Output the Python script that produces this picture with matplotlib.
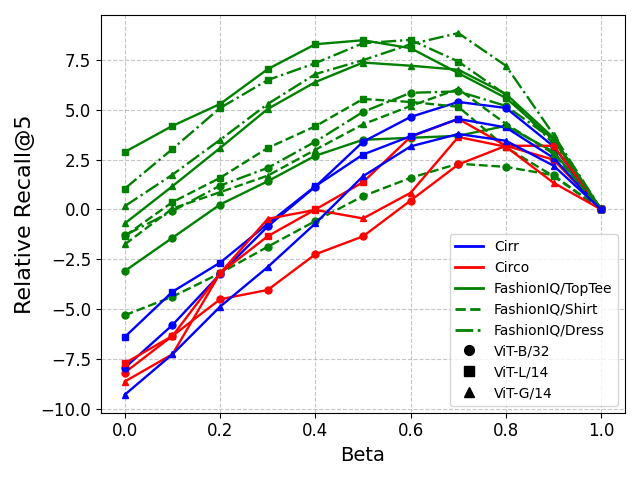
import matplotlib
matplotlib.use('Agg')
import matplotlib.pyplot as plt
from matplotlib.lines import Line2D
import numpy as np

beta = [0.0, 0.1, 0.2, 0.3, 0.4, 0.5, 0.6, 0.7, 0.8, 0.9, 1.0]

models = ['ViT-B/32', 'ViT-L/14', 'ViT-G/14']
markers = {'ViT-B/32': 'o', 'ViT-L/14': 's', 'ViT-G/14': '^'}

datasets = ['Cirr', 'Circo', 'FashionIQ/TopTee', 'FashionIQ/Shirt', 'FashionIQ/Dress']
colors = {'Cirr': 'blue', 'Circo': 'red', 'FashionIQ/TopTee': 'green',
          'FashionIQ/Shirt': 'green', 'FashionIQ/Dress': 'green'}
styles = {'Cirr': '-', 'Circo': '-', 'FashionIQ/TopTee': '-',
          'FashionIQ/Shirt': '--', 'FashionIQ/Dress': '-.'}

# relative recall@5 per dataset / model
cirr_b32 = [-7.95, -5.8, -3.25, -0.85, 1.15, 3.4, 4.65, 5.4, 5.1, 3.17, 0.0]
cirr_l14 = [-6.4, -4.13, -2.67, -0.72, 1.17, 2.76, 3.68, 4.55, 4.12, 2.59, 0.0]
cirr_g14 = [-9.3, -7.27, -4.88, -2.89, -0.7, 1.67, 3.17, 3.79, 3.45, 2.2, 0.0]

circo_b32 = [-8.19, -6.35, -4.51, -4.04, -2.25, -1.35, 0.45, 2.26, 3.2, 2.5, 0.0]
circo_l14 = [-7.72, -6.35, -3.2, -1.34, 0.0, 1.37, 3.65, 4.55, 3.2, 3.2, 0.0]
circo_g14 = [-8.64, -7.27, -3.2, -0.47, -0.02, -0.45, 0.84, 3.64, 3.15, 1.34, 0.0]

toptee_b32 = [-3.09, -1.42, 0.25, 1.42, 2.7, 3.5, 3.6, 3.7, 4.2, 2.9, 0.0]
toptee_l14 = [2.89, 4.2, 5.3, 7.05, 8.3, 8.5, 8.1, 6.85, 5.6, 3.5, 0.0]
toptee_g14 = [-0.7, 1.17, 3.09, 5.05, 6.4, 7.38, 7.22, 7.02, 5.8, 3.6, 0.0]

shirt_b32 = [-5.31, -4.38, -3.2, -1.87, -0.58, 0.67, 1.59, 2.3, 2.14, 1.72, 0.0]
shirt_l14 = [-1.33, 0.37, 1.59, 3.09, 4.18, 5.55, 5.4, 5.16, 3.12, 1.67, 0.0]
shirt_g14 = [-1.75, 0.05, 0.87, 1.7, 3.0, 4.28, 5.2, 6.05, 4.3, 2.8, 0.0]

dress_b32 = [-1.3, -0.08, 1.2, 2.09, 3.41, 4.9, 5.86, 5.93, 5.2, 3.5, 0.0]
dress_l14 = [1.05, 3.04, 5.1, 6.5, 7.35, 8.35, 8.52, 7.43, 5.76, 3.3, 0.0]
dress_g14 = [0.17, 1.75, 3.5, 5.3, 6.8, 7.5, 8.3, 8.86, 7.22, 3.76, 0.0]

results = {
    'Cirr': [cirr_b32, cirr_l14, cirr_g14],
    'Circo': [circo_b32, circo_l14, circo_g14],
    'FashionIQ/TopTee': [toptee_b32, toptee_l14, toptee_g14],
    'FashionIQ/Shirt': [shirt_b32, shirt_l14, shirt_g14],
    'FashionIQ/Dress': [dress_b32, dress_l14, dress_g14],
}

fig, ax = plt.subplots(figsize=(6.4, 4.8), dpi=100)

draw_order = ['FashionIQ/TopTee', 'FashionIQ/Shirt', 'FashionIQ/Dress', 'Circo', 'Cirr']
for mi, m in enumerate(models):
    for d in draw_order:
        ax.plot(beta, results[d][mi], color=colors[d], linestyle=styles[d],
                marker=markers[m], markersize=5, linewidth=1.7)

handles = [Line2D([0], [0], color=colors[d], linestyle=styles[d], linewidth=2)
           for d in datasets]
handles += [Line2D([0], [0], color='black', linestyle='none', marker=markers[m], markersize=7)
            for m in models]
ax.legend(handles, datasets + models, loc='lower right', fontsize=10)

ax.grid(True, linestyle='--', alpha=0.7)
ax.set_xlabel('Beta', fontsize=14)
ax.set_ylabel('Relative Recall@5', fontsize=16)
ax.tick_params(labelsize=12)

fig.tight_layout()
fig.savefig('out.png')
